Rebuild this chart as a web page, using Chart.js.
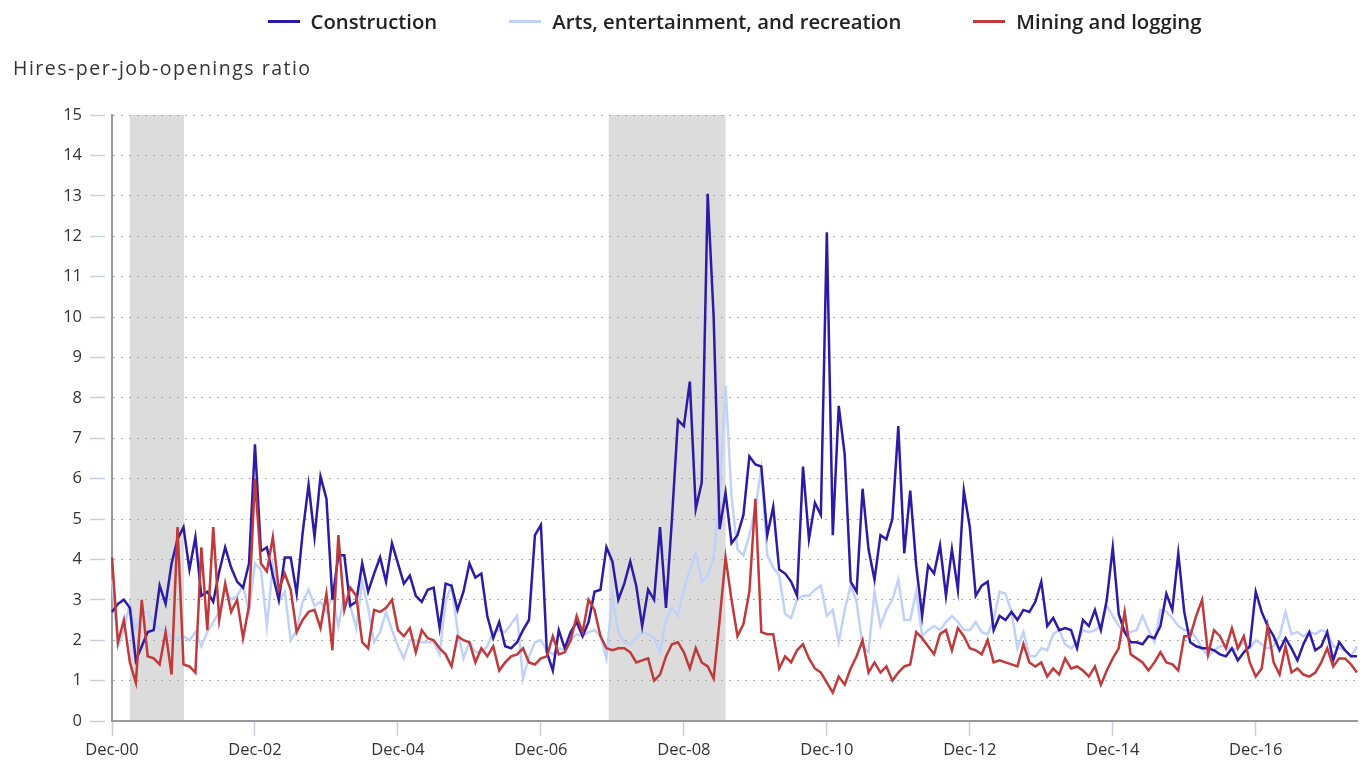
<!DOCTYPE html>
<html>
<head>
<meta charset="utf-8">
<script src="https://cdn.jsdelivr.net/npm/chart.js@4"></script>
<style>
  body { margin: 0; background: #fff; }
  #wrap { position: relative; width: 1362px; height: 767px; font-family: "Open Sans", sans-serif; }
  #legend { position: absolute; left: 112px; width: 1245px; top: 9px; display: flex; justify-content: center; gap: 72px; }
  .item { display: flex; align-items: center; font-size: 20.3px; line-height: 24px; font-weight: 600; color: #222; }
  .swatch { width: 32px; height: 3px; margin-right: 11px; }
  #ytitle { position: absolute; left: 13px; top: 58px; font-size: 19.5px; line-height: 20px; letter-spacing: 1.5px; color: #333; }
</style>
</head>
<body>
<div id="wrap">
  <canvas id="chart" width="1362" height="767"></canvas>
  <div id="legend"></div>
  <div id="ytitle">Hires-per-job-openings ratio</div>
</div>
<script>
// Monthly, Dec-00 .. May-18
const construction = [
  2.7, 2.9, 3.0, 2.8, 1.5, 1.85, 2.2, 2.25, 3.35, 2.9, 3.9, 4.5, 4.8, 3.75, 4.55, 3.1, 3.2, 2.95, 3.7, 4.3,
  3.8, 3.45, 3.3, 3.9, 6.85, 4.2, 4.3, 3.6, 3.0, 4.05, 4.05, 3.15, 4.65, 5.85, 4.55, 6.05, 5.5, 3.0, 4.1, 4.1,
  2.85, 2.95, 3.9, 3.2, 3.65, 4.05, 3.45, 4.4, 3.9, 3.4, 3.6, 3.1, 2.95, 3.25, 3.3, 2.3, 3.4, 3.35, 2.75, 3.2,
  3.9, 3.55, 3.65, 2.6, 2.05, 2.45, 1.85, 1.8, 1.95, 2.25, 2.5, 4.6, 4.85, 1.7, 1.25, 2.25, 1.8, 2.2, 2.45, 2.1,
  2.45, 3.2, 3.25, 4.3, 3.95, 3.0, 3.4, 3.95, 3.35, 2.35, 3.25, 3.0, 4.8, 2.8, 5.0, 7.45, 7.3, 8.4, 5.25, 5.9,
  13.05, 10.0, 4.75, 5.65, 4.4, 4.6, 5.1, 6.55, 6.35, 6.3, 4.6, 5.3, 3.75, 3.65, 3.45, 3.1, 6.3, 4.5, 5.4, 5.1,
  12.1, 4.6, 7.8, 6.6, 3.45, 3.2, 5.75, 4.25, 3.5, 4.6, 4.5, 5.0, 7.3, 4.15, 5.7, 3.85, 2.6, 3.85, 3.65, 4.35,
  3.1, 4.25, 3.25, 5.7, 4.8, 3.1, 3.35, 3.45, 2.25, 2.6, 2.5, 2.7, 2.5, 2.75, 2.7, 2.95, 3.45, 2.35, 2.55, 2.25,
  2.3, 2.25, 1.8, 2.5, 2.35, 2.75, 2.25, 3.0, 4.3, 2.65, 2.2, 1.95, 1.95, 1.9, 2.1, 2.05, 2.35, 3.15, 2.75, 4.15,
  2.7, 1.95, 1.85, 1.8, 1.8, 1.75, 1.65, 1.6, 1.8, 1.5, 1.7, 1.85, 3.2, 2.7, 2.35, 2.1, 1.75, 2.05, 1.8, 1.5,
  1.9, 2.2, 1.75, 1.85, 2.2, 1.5, 1.95, 1.75, 1.6, 1.6
];
const arts = [
  3.5, 1.85, 2.25, 2.9, 2.25, 2.7, 2.7, 2.45, 2.25, 2.25, 2.05, 2.05, 2.1, 2.0, 2.2, 1.85, 2.2, 2.45, 2.7, 3.25,
  3.0, 3.1, 3.35, 2.7, 3.9, 3.75, 2.35, 3.85, 2.95, 3.2, 2.0, 2.25, 2.95, 3.25, 2.85, 2.95, 2.7, 3.1, 2.35, 3.1,
  2.85, 2.3, 3.45, 2.8, 1.95, 2.2, 2.7, 2.25, 1.85, 1.55, 2.0, 2.0, 1.95, 1.95, 1.95, 1.65, 2.95, 3.35, 2.25, 1.55,
  1.95, 1.7, 1.7, 1.85, 2.2, 2.25, 2.2, 2.4, 2.6, 1.05, 1.6, 1.95, 2.0, 1.75, 1.65, 1.8, 1.75, 2.0, 2.15, 2.1,
  2.2, 2.25, 2.1, 1.55, 3.1, 2.2, 1.95, 1.9, 2.05, 2.2, 2.15, 2.05, 1.7, 2.5, 2.8, 2.6, 3.25, 3.75, 4.15, 3.45,
  3.6, 4.05, 5.55, 8.3, 5.55, 4.25, 4.1, 4.6, 5.25, 6.25, 4.1, 3.8, 3.6, 2.65, 2.55, 3.0, 3.1, 3.1, 3.25, 3.35,
  2.6, 2.75, 1.95, 2.75, 3.35, 2.95, 1.85, 1.7, 3.2, 2.35, 2.75, 3.0, 3.5, 2.5, 2.5, 3.2, 2.1, 2.25, 2.35, 2.25,
  2.45, 2.6, 2.45, 2.25, 2.25, 2.45, 2.2, 2.15, 2.5, 3.2, 3.15, 2.7, 1.8, 2.2, 1.6, 1.6, 1.8, 1.75, 2.15, 2.25,
  1.9, 1.8, 1.95, 2.25, 2.2, 2.25, 2.35, 2.85, 2.6, 2.35, 2.2, 2.2, 2.25, 2.6, 2.25, 1.95, 2.75, 2.7, 2.55, 2.35,
  2.25, 2.25, 2.05, 1.8, 1.6, 1.75, 1.85, 1.85, 1.75, 1.8, 1.95, 1.8, 2.0, 1.9, 1.8, 1.85, 2.1, 2.7, 2.15, 2.2,
  2.1, 2.2, 2.15, 2.25, 2.2, 1.85, 1.8, 1.75, 1.6, 1.85
];
const mining = [
  4.05, 1.95, 2.5, 1.45, 0.95, 3.0, 1.6, 1.55, 1.4, 2.2, 1.15, 4.8, 1.4, 1.35, 1.2, 4.3, 2.25, 4.8, 2.5, 3.4,
  2.7, 3.0, 2.05, 2.85, 6.0, 3.9, 3.7, 4.55, 3.25, 3.65, 3.25, 2.2, 2.5, 2.7, 2.75, 2.3, 3.15, 1.75, 4.6, 2.75,
  3.3, 3.1, 1.95, 1.8, 2.75, 2.7, 2.8, 3.0, 2.25, 2.1, 2.3, 1.7, 2.25, 2.05, 2.0, 1.8, 1.65, 1.35, 2.1, 2.0,
  1.95, 1.45, 1.8, 1.6, 1.85, 1.25, 1.45, 1.6, 1.65, 1.8, 1.45, 1.4, 1.55, 1.6, 2.1, 1.65, 1.7, 2.0, 2.6, 2.2,
  3.0, 2.75, 2.1, 1.8, 1.75, 1.8, 1.8, 1.7, 1.45, 1.5, 1.55, 1.0, 1.15, 1.6, 1.9, 1.95, 1.7, 1.3, 1.8, 1.45,
  1.35, 1.05, 2.5, 4.05, 3.0, 2.1, 2.4, 3.2, 5.5, 2.2, 2.15, 2.15, 1.3, 1.6, 1.45, 1.75, 1.9, 1.55, 1.3, 1.2,
  0.95, 0.7, 1.1, 0.9, 1.3, 1.6, 2.0, 1.2, 1.45, 1.2, 1.35, 1.0, 1.2, 1.35, 1.4, 2.2, 2.05, 1.85, 1.65, 2.15,
  2.25, 1.75, 2.3, 2.1, 1.8, 1.75, 1.65, 2.0, 1.45, 1.5, 1.45, 1.4, 1.35, 1.9, 1.45, 1.35, 1.45, 1.1, 1.3, 1.15,
  1.55, 1.3, 1.35, 1.25, 1.1, 1.35, 0.9, 1.25, 1.55, 1.8, 2.7, 1.65, 1.55, 1.45, 1.25, 1.45, 1.7, 1.45, 1.4, 1.25,
  2.1, 2.1, 2.6, 3.0, 1.65, 2.25, 2.1, 1.8, 2.3, 1.8, 2.1, 1.45, 1.1, 1.3, 2.35, 1.45, 1.15, 1.85, 1.2, 1.3,
  1.15, 1.1, 1.2, 1.45, 1.8, 1.35, 1.55, 1.55, 1.4, 1.2
];

const tickLabels = ['Dec-00', 'Dec-02', 'Dec-04', 'Dec-06', 'Dec-08', 'Dec-10', 'Dec-12', 'Dec-14', 'Dec-16'];
// recession bands, in months from Dec-00
const recessionStart = [3, 83.4];
const recessionEnd = [12.1, 103];

const monthNames = ['Jan', 'Feb', 'Mar', 'Apr', 'May', 'Jun', 'Jul', 'Aug', 'Sep', 'Oct', 'Nov', 'Dec'];
const months = construction.map((_, i) => {
  const n = 2000 * 12 + 11 + i;
  return monthNames[n % 12] + '-' + String(Math.floor(n / 12) % 100).padStart(2, '0');
});

const series = [
  { label: 'Construction', data: construction, color: '#2b1ba6', order: 1 },
  { label: 'Arts, entertainment, and recreation', data: arts, color: '#c0d2f8', order: 2 },
  { label: 'Mining and logging', data: mining, color: '#c0393b', order: 0 }
];

// legend in html
const legendEl = document.getElementById('legend');
series.forEach(s => {
  const item = document.createElement('div');
  item.className = 'item';
  item.innerHTML = '<span class="swatch" style="background:' + s.color + '"></span>' + s.label;
  legendEl.appendChild(item);
});

const recessionShade = {
  id: 'recessionShade',
  beforeDraw(chart) {
    const { ctx, chartArea, scales: { x } } = chart;
    ctx.save();
    ctx.fillStyle = '#dcdcdc';
    recessionStart.forEach((s, k) => {
      const x1 = x.getPixelForValue(s);
      const x2 = x.getPixelForValue(recessionEnd[k]);
      ctx.fillRect(x1, chartArea.top, x2 - x1, chartArea.bottom - chartArea.top);
    });
    ctx.restore();
  }
};

const tickFont = { family: 'Open Sans', size: 16.5 };

new Chart(document.getElementById('chart'), {
  type: 'line',
  data: {
    labels: months,
    datasets: series.map(s => ({
      label: s.label,
      data: s.data,
      borderColor: s.color,
      backgroundColor: s.color,
      borderWidth: 2.5,
      pointRadius: 0,
      tension: 0,
      order: s.order
    }))
  },
  options: {
    responsive: false,
    animation: false,
    devicePixelRatio: 1,
    layout: { padding: { top: 115, right: 5, bottom: 0, left: 0 } },
    plugins: { legend: { display: false }, tooltip: { enabled: false } },
    scales: {
      x: {
        type: 'category',
        offset: false,
        afterBuildTicks: scale => {
          scale.ticks = tickLabels.map(l => ({ value: months.indexOf(l) }));
        },
        afterFit: scale => { scale.height = 46; },
        ticks: { autoSkip: false, maxRotation: 0, color: '#333', font: tickFont, padding: 4 },
        grid: { drawOnChartArea: false, tickLength: 15, tickColor: '#c5cfdf', tickWidth: 1.5 },
        border: { color: '#999', width: 2 }
      },
      y: {
        min: 0,
        max: 15,
        afterFit: scale => { scale.width = 112; },
        ticks: { stepSize: 1, color: '#333', font: tickFont, padding: 8 },
        grid: {
          color: '#aaa',
          lineWidth: 1,
          tickLength: 22,
          tickColor: '#c5cfdf',
          tickWidth: 1.5,
          tickBorderDash: [15, 40]
        },
        border: { color: '#999', width: 2, dash: [2, 6] }
      }
    }
  },
  plugins: [recessionShade]
});
</script>
</body>
</html>
